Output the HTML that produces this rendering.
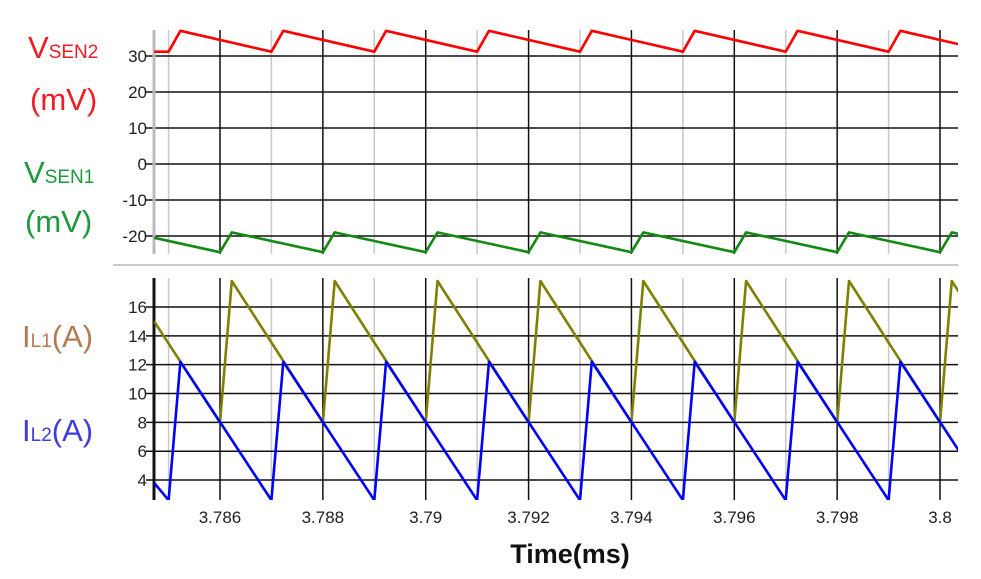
<!DOCTYPE html>
<html><head><meta charset="utf-8"><style>
html,body{margin:0;padding:0;background:#fff;}
svg{display:block;font-family:"Liberation Sans",Arial,sans-serif;}
</style></head><body>
<svg id="chart" width="981" height="579" viewBox="0 0 981 579" xmlns="http://www.w3.org/2000/svg">
<g>
<text x="28" y="58" fill="#ee1c24" font-size="31">V<tspan font-size="19">SEN2</tspan></text>
<text x="30" y="110" fill="#ee1c24" font-size="31">(mV)</text>
<text x="24" y="183" fill="#1c9a3c" font-size="31">V<tspan font-size="19">SEN1</tspan></text>
<text x="25" y="232" fill="#1c9a3c" font-size="31">(mV)</text>
<text x="22" y="347" fill="#b57a52" font-size="31">I<tspan font-size="19">L1</tspan>(A)</text>
<text x="22" y="441" fill="#3c3ce0" font-size="31">I<tspan font-size="19">L2</tspan>(A)</text>
</g>
<text x="570" y="563" text-anchor="middle" font-size="27" font-weight="bold" fill="#111">Time(ms)</text>
<line x1="113" y1="265" x2="958" y2="265" stroke="#cccccc" stroke-width="2"/>
<g id="grid"></g>
<g id="traces"></g>
<g id="labels"></g>
</svg>
<script>
// ---- data ----
const xTickLabels = ["3.786","3.788","3.79","3.792","3.794","3.796","3.798","3.8"];
const xTickValues = [3.786,3.788,3.790,3.792,3.794,3.796,3.798,3.800];
const xMinorValues = [3.785,3.787,3.789,3.791,3.793,3.795,3.797,3.799];
const topTicks = [30,20,10,0,-10,-20];
const botTicks = [16,14,12,10,8,6,4];
const phaseATimes = [3.786,3.788,3.790,3.792,3.794,3.796,3.798,3.800];
const phaseBTimes = [3.785,3.787,3.789,3.791,3.793,3.795,3.797,3.799];
const il1Valley = [8,8,8,8,8,8,8,8];
const il1Peak = [17.8,17.8,17.8,17.8,17.8,17.8,17.8,17.8];
const il1Start = 15;
const il2Valley = [2.6,2.6,2.6,2.6,2.6,2.6,2.6,2.6];
const il2Peak = [12.2,12.2,12.2,12.2,12.2,12.2,12.2,12.2];
const il2Start = 3.8;
const vsen2Low = [31.2,31.2,31.2,31.2,31.2,31.2,31.2,31.2];
const vsen2High = [37,37,37,37,37,37,37,37];
const vsen2Start = 31.2;
const vsen1Low = [-24.5,-24.5,-24.5,-24.5,-24.5,-24.5,-24.5,-24.5];
const vsen1High = [-19,-19,-19,-19,-19,-19,-19,-19];
const vsen1Start = -20.5;
const riseDur = 0.00023;

// ---- axes ----
const X0=154, X1=958, T0=3.78472;
const xs = t => 220 + (t-3.786)*51430;
const yTop = v => 56 - (v-30)*3.6;
const yBot = v => 307 - (v-16)*14.42;
const TOP_Y0=30, TOP_Y1=254, BOT_Y0=278, BOT_Y1=500;
const NS="http://www.w3.org/2000/svg";
function mk(tag, attrs, parent){const e=document.createElementNS(NS,tag);for(const k in attrs)e.setAttribute(k,attrs[k]);parent.appendChild(e);return e;}
const grid=document.getElementById('grid'), tr=document.getElementById('traces'), lb=document.getElementById('labels');

const defs=mk('defs',{},document.getElementById('chart'));
const c1=mk('clipPath',{id:'clipTop'},defs); mk('rect',{x:X0,y:TOP_Y0-5,width:X1-X0,height:TOP_Y1-TOP_Y0+5},c1);
const c2=mk('clipPath',{id:'clipBot'},defs); mk('rect',{x:X0,y:BOT_Y0,width:X1-X0,height:BOT_Y1-BOT_Y0},c2);

function panelGrid(y0,y1,ticks,ys,axisColor,name){
  xMinorValues.forEach(v=>{
    const l=mk('line',{x1:xs(v),x2:xs(v),y1:y0,y2:y1,stroke:'#c8c8c8','stroke-width':1.5},grid);
    
    
  });
  xTickValues.forEach(v=>{
    const l=mk('line',{x1:xs(v),x2:xs(v),y1:y0,y2:y1,stroke:'#111','stroke-width':1.5},grid);
    
    
  });
  ticks.forEach(v=>{
    const l=mk('line',{x1:X0-8,x2:X1,y1:ys(v),y2:ys(v),stroke:'#111','stroke-width':1.5},grid);
    
    
    const t=mk('text',{x:X0-7,y:ys(v)+6,'text-anchor':'end','font-size':17,fill:'#222'},lb);
    t.textContent=v;
    
    
  });
  const a=mk('line',{x1:X0,x2:X0,y1:y0,y2:y1,stroke:axisColor,'stroke-width':3},grid);
  
  
}
panelGrid(TOP_Y0,TOP_Y1,topTicks,yTop,'#bbbbbb','top-panel');
panelGrid(BOT_Y0,BOT_Y1,botTicks,yBot,'#111','bottom-panel');
xTickValues.forEach((v,i)=>{
  const t=mk('text',{x:xs(v),y:523,'text-anchor':'middle','font-size':17,fill:'#222'},lb);
  t.textContent=xTickLabels[i];
  
  
});

function saw(times,lows,highs,startVal){
  const pts=[[T0,startVal],[times[0],lows[0]]];
  for(let i=0;i<times.length;i++){
    pts.push([times[i]+riseDur,highs[i]]);
    if(i+1<times.length) pts.push([times[i+1],lows[i+1]]);
    else { const nt=times[i]+0.002; const slope=(lows[i]-highs[i])/(0.002-riseDur); pts.push([nt,highs[i]+slope*(nt-times[i]-riseDur)]); }
  }
  return pts;
}
function draw(pts,ys,color,clip,name){
  const d=pts.map((p,i)=>(i?'L':'M')+xs(p[0]).toFixed(1)+','+ys(p[1]).toFixed(1)).join(' ');
  const p=mk('path',{d:d,fill:'none',stroke:color,'stroke-width':2.6,'stroke-linejoin':'round','clip-path':'url(#'+clip+')'},tr);
  
  
}
draw(saw(phaseBTimes,vsen2Low,vsen2High,vsen2Start),yTop,'#ff0000','clipTop','vsen2-trace');
draw(saw(phaseATimes,vsen1Low,vsen1High,vsen1Start),yTop,'#138a13','clipTop','vsen1-trace');
draw(saw(phaseATimes,il1Valley,il1Peak,il1Start),yBot,'#808000','clipBot','il1-trace');
draw(saw(phaseBTimes,il2Valley,il2Peak,il2Start),yBot,'#0000ff','clipBot','il2-trace');
</script>
</body></html>
